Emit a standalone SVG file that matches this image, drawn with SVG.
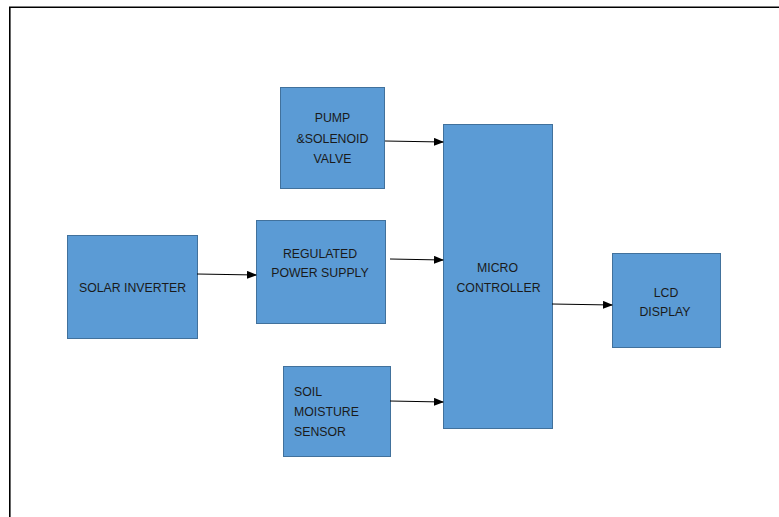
<svg xmlns="http://www.w3.org/2000/svg" width="779" height="517" viewBox="0 0 779 517">
<defs>
<style>
.box{fill:#5B9BD5;stroke:#41719C;stroke-width:1}
.t{font-family:"Liberation Sans",Arial,sans-serif;font-size:12.3px;fill:#1a1a1a}
.c{text-anchor:middle}
.ln{stroke:#000;stroke-width:1.2;fill:none;marker-end:url(#ah)}
</style>
<marker id="ah" markerWidth="10" markerHeight="8" refX="9" refY="4" orient="auto" markerUnits="userSpaceOnUse">
<path d="M0,0 L10,4 L0,8 Z" fill="#000"/>
</marker>
</defs>
<rect width="779" height="517" fill="#fff"/>
<path d="M9.8,517 V7.2 H779" fill="none" stroke="#000" stroke-width="1.6"/>
<g id="pump">
<rect class="box" x="280.5" y="87.5" width="104" height="101"/>
<text class="t c" x="332.5" y="122">PUMP</text>
<text class="t c" x="332.5" y="143">&amp;SOLENOID</text>
<text class="t c" x="332.5" y="163">VALVE</text>
</g>
<g id="micro">
<rect class="box" x="443.5" y="124.5" width="109" height="304"/>
<text class="t c" x="497.5" y="272">MICRO</text>
<text class="t c" x="498.5" y="292">CONTROLLER</text>
</g>
<g id="solar">
<rect class="box" x="67.5" y="235.5" width="130" height="103"/>
<text class="t c" x="132.5" y="292">SOLAR INVERTER</text>
</g>
<g id="regulated">
<rect class="box" x="256.5" y="220.5" width="129" height="103"/>
<text class="t c" x="320" y="258">REGULATED</text>
<text class="t c" x="320" y="277">POWER SUPPLY</text>
</g>
<g id="soil">
<rect class="box" x="283.5" y="366.5" width="107" height="90"/>
<text class="t" x="294" y="396">SOIL</text>
<text class="t" x="294" y="416">MOISTURE</text>
<text class="t" x="294" y="436">SENSOR</text>
</g>
<g id="lcd">
<rect class="box" x="612.5" y="253.5" width="108" height="94"/>
<text class="t c" x="666" y="297">LCD</text>
<text class="t c" x="665" y="316">DISPLAY</text>
</g>
<g id="connectors">
<line class="ln" x1="385" y1="141" x2="443" y2="142"/>
<line class="ln" x1="197" y1="274" x2="256" y2="275"/>
<line class="ln" x1="390" y1="259" x2="443" y2="260"/>
<line class="ln" x1="390" y1="401" x2="443" y2="402"/>
<line class="ln" x1="552" y1="304" x2="612" y2="305"/>
</g>
</svg>
